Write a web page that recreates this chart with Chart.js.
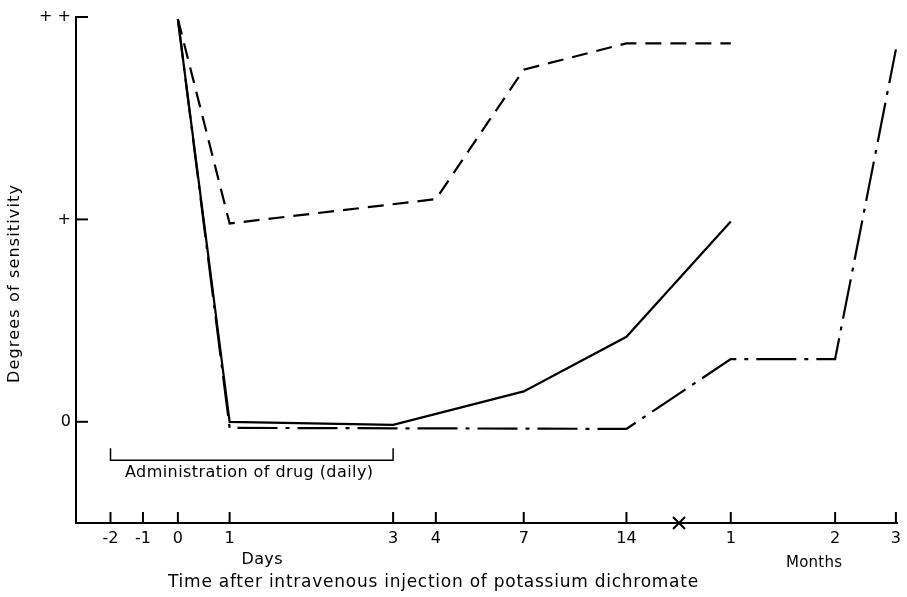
<!DOCTYPE html>
<html>
<head>
<meta charset="utf-8">
<script src="https://cdn.jsdelivr.net/npm/chart.js@4/dist/chart.umd.min.js"></script>
<style>
  html, body { margin: 0; padding: 0; background: #fff; }
  #wrap { width: 907px; height: 597px; }
</style>
</head>
<body>
<div id="wrap"><canvas id="c" width="907" height="597"></canvas></div>
<script>
// ---- Data ----
// Time points along the (non-uniform) time axis
const timeKeys   = ['-2d', '-1d', '0d', '1d', '3d', '4d', '7d', '14d', 'break', '1mo', '2mo', '3mo'];
const tickLabels = ['-2',  '-1',  '0',  '1',  '3',  '4',  '7',  '14',  '',      '1',   '2',   '3'];
// position of each time point along the drawn axis (0..100, as printed in the figure)
const axisPos    = [4.2,   8.15,  12.4, 18.7, 38.6, 43.8, 54.5, 67.0,  73.4,    79.7,  92.4,  99.8];

// Degrees of sensitivity: 0, + (1), ++ (2)
const yTickValues = [0, 1, 2];
const yTickLabels = ['0', '+', '+ +'];

// Series (solid, dashed, dash-dot)
const solidTimes   = ['0d', '1d', '3d', '7d', '14d', '1mo'];
const solidValues  = [1.99, 0.0, -0.015, 0.15, 0.42, 0.99];

const dashedTimes  = ['0d', '1d', '4d', '7d', '14d', '1mo'];
const dashedValues = [1.99, 0.98, 1.10, 1.74, 1.87, 1.87];

const dashDotTimes  = ['0d', '1d', '14d', '1mo', '2mo', '3mo'];
const dashDotValues = [1.99, -0.03, -0.035, 0.31, 0.31, 1.84];

const FONT = '"DejaVu Sans", sans-serif';

function toPoints(times, values) {
  return times.map((t, i) => ({ x: axisPos[timeKeys.indexOf(t)], y: values[i] }));
}

// draw text centred at (cx, cy), spread with letter spacing to a target width
function fitText(ctx, text, cx, cy, size, targetW) {
  ctx.font = size + 'px ' + FONT;
  ctx.letterSpacing = '0px';
  const w = ctx.measureText(text).width;
  const sp = Math.max(0, (targetW - w) / Math.max(1, text.length - 1));
  ctx.letterSpacing = sp.toFixed(2) + 'px';
  ctx.textAlign = 'left';
  ctx.fillText(text, cx - targetW / 2, cy);
  ctx.letterSpacing = '0px';
}

const extras = {
  id: 'extras',
  afterDraw(chart) {
    const ctx = chart.ctx;
    const xs = chart.scales.x, ys = chart.scales.y;
    const area = chart.chartArea;
    ctx.save();
    ctx.strokeStyle = '#000';
    ctx.fillStyle = '#000';
    ctx.lineWidth = 2;
    ctx.lineCap = 'butt';
    // y tick marks (pointing inward)
    yTickValues.forEach(v => {
      const py = ys.getPixelForValue(v);
      ctx.beginPath(); ctx.moveTo(area.left, py); ctx.lineTo(area.left + 12, py); ctx.stroke();
    });
    // x tick marks (pointing up)
    axisPos.forEach((p, i) => {
      const px = xs.getPixelForValue(p);
      if (timeKeys[i] === 'break') {
        ctx.lineWidth = 2;
        ctx.beginPath();
        ctx.moveTo(px - 6, area.bottom - 6); ctx.lineTo(px + 6, area.bottom + 6);
        ctx.moveTo(px + 6, area.bottom - 6); ctx.lineTo(px - 6, area.bottom + 6);
        ctx.stroke();
        return;
      }
      ctx.beginPath(); ctx.moveTo(px, area.bottom); ctx.lineTo(px, area.bottom - 11); ctx.stroke();
    });
    // Administration bracket from -2 to 3 days
    const bx1 = xs.getPixelForValue(axisPos[timeKeys.indexOf('-2d')]);
    const bx2 = xs.getPixelForValue(axisPos[timeKeys.indexOf('3d')]);
    const by = ys.getPixelForValue(-0.19);
    ctx.lineWidth = 1.5;
    ctx.beginPath();
    ctx.moveTo(bx1, by - 12); ctx.lineTo(bx1, by); ctx.lineTo(bx2, by); ctx.lineTo(bx2, by - 12);
    ctx.stroke();

    ctx.textBaseline = 'middle';
    fitText(ctx, 'Administration of drug (daily)', 249, by + 13, 16, 248);
    fitText(ctx, 'Days', 262, 560, 16, 41);
    fitText(ctx, 'Months', 814, 563, 15, 56);
    fitText(ctx, 'Time after intravenous injection of potassium dichromate', 433, 583, 17, 530);

    ctx.save();
    ctx.translate(15, 284);
    ctx.rotate(-Math.PI / 2);
    fitText(ctx, 'Degrees of sensitivity', 0, 0, 16, 198);
    ctx.restore();
    ctx.restore();
  }
};

new Chart(document.getElementById('c'), {
  type: 'line',
  data: {
    datasets: [
      { label: 'solid', data: toPoints(solidTimes, solidValues),
        borderColor: '#000', borderWidth: 2.2, borderDash: [] },
      { label: 'dashed', data: toPoints(dashedTimes, dashedValues),
        borderColor: '#000', borderWidth: 2.2, borderDash: [16, 9] },
      { label: 'dash-dot', data: toPoints(dashDotTimes, dashDotValues),
        borderColor: '#000', borderWidth: 2.2, borderDash: [40, 8, 4, 8] }
    ]
  },
  options: {
    responsive: false,
    animation: false,
    devicePixelRatio: 1,
    clip: false,
    layout: { padding: { top: 17, right: 5, left: 0, bottom: 0 } },
    elements: { point: { radius: 0 }, line: { tension: 0, borderJoinStyle: 'miter', fill: false } },
    plugins: { legend: { display: false }, tooltip: { enabled: false } },
    scales: {
      x: {
        type: 'linear', min: 0, max: 100,
        afterBuildTicks: s => { s.ticks = axisPos.map(v => ({ value: v })); },
        afterFit: s => { s.height = 74; },
        ticks: {
          autoSkip: false, maxRotation: 0, padding: 6,
          color: '#000', font: { family: FONT, size: 16 },
          callback: (v, i) => tickLabels[i]
        },
        grid: { display: false, drawTicks: false },
        border: { display: true, color: '#000', width: 2 }
      },
      y: {
        type: 'linear', min: -0.5, max: 2,
        afterBuildTicks: s => { s.ticks = yTickValues.map(v => ({ value: v })); },
        afterFit: s => { s.width = 76; },
        ticks: {
          autoSkip: false, padding: 5,
          color: '#000', font: { family: FONT, size: 16 },
          callback: (v, i) => yTickLabels[i]
        },
        grid: { display: false, drawTicks: false },
        border: { display: true, color: '#000', width: 2 }
      }
    }
  },
  plugins: [extras]
});
</script>
</body>
</html>
